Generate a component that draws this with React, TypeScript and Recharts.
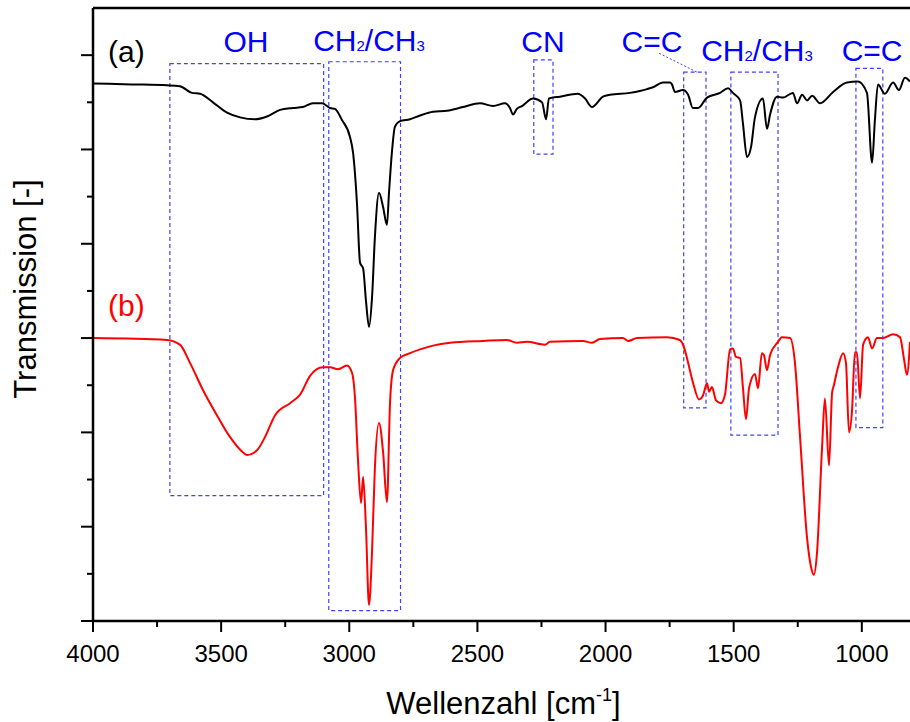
import React from 'react';
import { LineChart, Line, XAxis, YAxis, ReferenceArea, ReferenceLine, ReferenceDot } from 'recharts';

// spectrum (a), black
const waveA = [4000, 3850, 3711, 3661, 3614, 3582, 3532, 3477, 3426, 3368, 3321, 3270, 3220, 3181, 3142, 3106, 3075, 3056, 3028, 2997, 2985, 2970, 2958, 2946, 2935, 2923, 2911, 2900, 2884, 2868, 2853, 2845, 2833, 2822, 2802, 2763, 2724, 2673, 2619, 2556, 2490, 2439, 2392, 2373, 2361, 2346, 2326, 2283, 2248, 2232, 2221, 2178, 2108, 2080, 2053, 2010, 1983, 1905, 1866, 1838, 1815, 1776, 1749, 1741, 1729, 1698, 1678, 1659, 1639, 1604, 1553, 1522, 1503, 1475, 1464, 1448, 1432, 1417, 1386, 1370, 1358, 1331, 1308, 1269, 1253, 1233, 1214, 1194, 1163, 1112, 1058, 1015, 980, 960, 949, 937, 910, 878, 855, 832, 812];
const transA = [5.7, 5.69, 5.68, 5.67, 5.6, 5.59, 5.5, 5.39, 5.34, 5.32, 5.35, 5.42, 5.44, 5.45, 5.49, 5.49, 5.44, 5.43, 5.31, 5.13, 4.96, 4.43, 3.8, 3.74, 3.4, 3.12, 3.44, 4.07, 4.54, 4.39, 4.2, 4.54, 4.99, 5.24, 5.3, 5.32, 5.36, 5.4, 5.41, 5.45, 5.49, 5.46, 5.49, 5.44, 5.37, 5.43, 5.46, 5.54, 5.5, 5.32, 5.54, 5.56, 5.59, 5.54, 5.45, 5.56, 5.58, 5.6, 5.62, 5.64, 5.66, 5.71, 5.71, 5.69, 5.61, 5.63, 5.58, 5.44, 5.44, 5.55, 5.6, 5.65, 5.6, 5.52, 5.28, 4.92, 5.03, 5.34, 5.54, 5.22, 5.37, 5.56, 5.55, 5.6, 5.49, 5.58, 5.52, 5.57, 5.49, 5.61, 5.71, 5.72, 5.6, 4.86, 5.31, 5.69, 5.59, 5.71, 5.63, 5.76, 5.72];

// spectrum (b), red
const waveB = [4000, 3711, 3661, 3622, 3571, 3516, 3465, 3415, 3399, 3360, 3329, 3290, 3231, 3192, 3153, 3103, 3075, 3044, 3009, 2989, 2978, 2966, 2954, 2946, 2935, 2923, 2911, 2900, 2884, 2868, 2853, 2841, 2829, 2802, 2763, 2724, 2673, 2607, 2478, 2385, 2346, 2307, 2236, 2217, 2088, 2053, 2022, 1932, 1912, 1877, 1760, 1710, 1690, 1678, 1659, 1635, 1620, 1604, 1596, 1585, 1569, 1550, 1534, 1514, 1503, 1491, 1475, 1464, 1452, 1440, 1417, 1405, 1390, 1382, 1370, 1358, 1327, 1312, 1280, 1261, 1241, 1214, 1198, 1187, 1175, 1155, 1144, 1128, 1116, 1109, 1093, 1073, 1062, 1050, 1038, 1027, 1019, 1007, 995, 976, 960, 941, 917, 878, 851, 835, 824, 812];
const transB = [3.0, 2.98, 2.93, 2.74, 2.45, 2.18, 1.95, 1.79, 1.76, 1.81, 1.95, 2.18, 2.31, 2.4, 2.6, 2.69, 2.69, 2.67, 2.71, 2.63, 2.38, 1.71, 1.25, 1.53, 1.0, 0.17, 0.75, 1.63, 2.1, 1.79, 1.26, 2.31, 2.66, 2.79, 2.84, 2.88, 2.92, 2.95, 2.97, 2.98, 2.95, 2.96, 2.93, 2.96, 2.97, 2.95, 2.99, 3.0, 2.97, 3.0, 3.01, 2.98, 2.87, 2.74, 2.53, 2.35, 2.39, 2.52, 2.43, 2.48, 2.34, 2.31, 2.4, 2.88, 2.89, 2.8, 2.79, 2.48, 2.14, 2.47, 2.62, 2.47, 2.84, 2.82, 2.66, 2.82, 2.96, 3.01, 3.0, 2.74, 1.95, 0.89, 0.57, 0.49, 0.72, 1.85, 2.36, 1.65, 2.42, 2.5, 2.69, 2.84, 2.74, 2.0, 2.24, 2.85, 2.85, 2.36, 2.93, 3.01, 2.89, 3.0, 3.0, 3.04, 3.01, 2.77, 2.61, 2.96];

const xTicks = [4000, 3750, 3500, 3250, 3000, 2750, 2500, 2250, 2000, 1750, 1500, 1250, 1000];
const yTicks = [0, 0.5, 1, 1.5, 2, 2.5, 3, 3.5, 4, 4.5, 5, 5.5, 6];

// marked bands: [from, to, bottom, top]
const bands = [
  [3700, 3100, 1.33, 5.91],
  [3080, 2800, 0.11, 5.93],
  [2280, 2205, 4.95, 5.95],
  [1695, 1608, 2.26, 5.82],
  [1511, 1327, 1.97, 5.82],
  [1023, 918, 2.05, 5.86],
];

// band labels: [text, wavenumber, y]
const bandLabels: [string, number, number][] = [
  ['OH', 3403, 6.03],
  ['CH2/CH3', 2923, 6.04],
  ['CN', 2244, 6.03],
  ['C=C', 1819, 6.03],
  ['CH2/CH3', 1409, 5.94],
  ['C=C', 960, 5.94],
];

const FONT = "'Liberation Sans', Arial, sans-serif";
const BLUE = '#0000ff';
const BOX = '#4040ff';

const dataA = waveA.map((w, i) => ({ w, t: transA[i] }));
const dataB = waveB.map((w, i) => ({ w, t: transB[i] }));

const XTick = ({ x, y, payload }: any) => {
  const major = payload.value % 500 === 0;
  return (
    <g>
      <line x1={x} x2={x} y1={y} y2={y + (major ? 11 : 6)} stroke="#000" strokeWidth={2} />
      {major && (
        <text x={x} y={y + 41} textAnchor="middle" fontSize={24} fontFamily={FONT} fill="#000">
          {payload.value}
        </text>
      )}
    </g>
  );
};

const YTick = ({ x, y, payload }: any) => {
  const major = Number.isInteger(payload.value);
  return <line x1={x} x2={x - (major ? 12 : 6)} y1={y} y2={y} stroke="#000" strokeWidth={2} />;
};

const labelText = (text: string) => {
  if (text.indexOf('CH2') === 0) {
    return (
      <>
        CH<tspan fontSize={15}>2</tspan>/CH<tspan fontSize={15}>3</tspan>
      </>
    );
  }
  return text;
};

export default function App() {
  return (
    <div style={{ position: 'absolute', left: 0, top: 0 }}>
      <LineChart width={910} height={722} margin={{ top: 8, right: 0, bottom: 0, left: 0 }}>
        <XAxis
          dataKey="w"
          type="number"
          domain={[812, 4000]}
          reversed
          allowDataOverflow
          ticks={xTicks}
          interval={0}
          height={101}
          tickSize={0}
          tickMargin={0}
          axisLine={{ stroke: '#000', strokeWidth: 2.5 }}
          tickLine={false}
          tick={<XTick />}
          label={{
            content: ({ viewBox }: any) => (
              <text
                x={viewBox.x + viewBox.width / 2 + 2}
                y={viewBox.y + 93}
                textAnchor="middle"
                fontSize={31}
                fontFamily={FONT}
                fill="#000"
              >
                Wellenzahl [cm<tspan fontSize={18} dy={-13}>-1</tspan><tspan dy={13}>]</tspan>
              </text>
            ),
          }}
        />
        <YAxis
          type="number"
          domain={[0, 6.5]}
          ticks={yTicks}
          interval={0}
          width={93}
          tickSize={0}
          tickMargin={0}
          axisLine={{ stroke: '#000', strokeWidth: 2.5 }}
          tickLine={false}
          tick={<YTick />}
          label={{
            content: () => (
              <text
                x={36}
                y={289}
                transform="rotate(-90, 36, 289)"
                textAnchor="middle"
                fontSize={31}
                fontFamily={FONT}
                fill="#000"
              >
                Transmission [-]
              </text>
            ),
          }}
        />
        <ReferenceLine y={6.5} stroke="#000" strokeWidth={2.5} ifOverflow="visible" />
        <Line data={dataA} dataKey="t" type="monotone" stroke="#000" strokeWidth={2} dot={false} isAnimationActive={false} />
        <Line data={dataB} dataKey="t" type="monotone" stroke="#ff0000" strokeWidth={2} dot={false} isAnimationActive={false} />
        {bands.map((b, i) => (
          <ReferenceArea
            key={`band-${i}`}
            x1={b[0]}
            x2={b[1]}
            y1={b[2]}
            y2={b[3]}
            fill="none"
            fillOpacity={0}
            stroke={BOX}
            strokeWidth={1.2}
            strokeDasharray="4 3"
            ifOverflow="visible"
          />
        ))}
        <ReferenceLine
          segment={[{ x: 1791, y: 6.02 }, { x: 1643, y: 5.82 }]}
          stroke={BOX}
          strokeWidth={1}
          strokeDasharray="2 2"
          ifOverflow="visible"
        />
        {bandLabels.map(([text, w, t], i) => (
          <ReferenceDot
            key={`lbl-${i}`}
            x={w}
            y={t}
            r={0}
            ifOverflow="visible"
            shape={(p: any) => (
              <text x={p.cx} y={p.cy} textAnchor="middle" fontSize={30} fontFamily={FONT} fill={BLUE}>
                {labelText(text)}
              </text>
            )}
          />
        ))}
        <ReferenceDot
          x={3941}
          y={5.93}
          r={0}
          ifOverflow="visible"
          shape={(p: any) => (
            <text x={p.cx} y={p.cy} fontSize={30} fontFamily={FONT} fill="#000">(a)</text>
          )}
        />
        <ReferenceDot
          x={3941}
          y={3.23}
          r={0}
          ifOverflow="visible"
          shape={(p: any) => (
            <text x={p.cx} y={p.cy} fontSize={30} fontFamily={FONT} fill="#ff0000">(b)</text>
          )}
        />
      </LineChart>
    </div>
  );
}
